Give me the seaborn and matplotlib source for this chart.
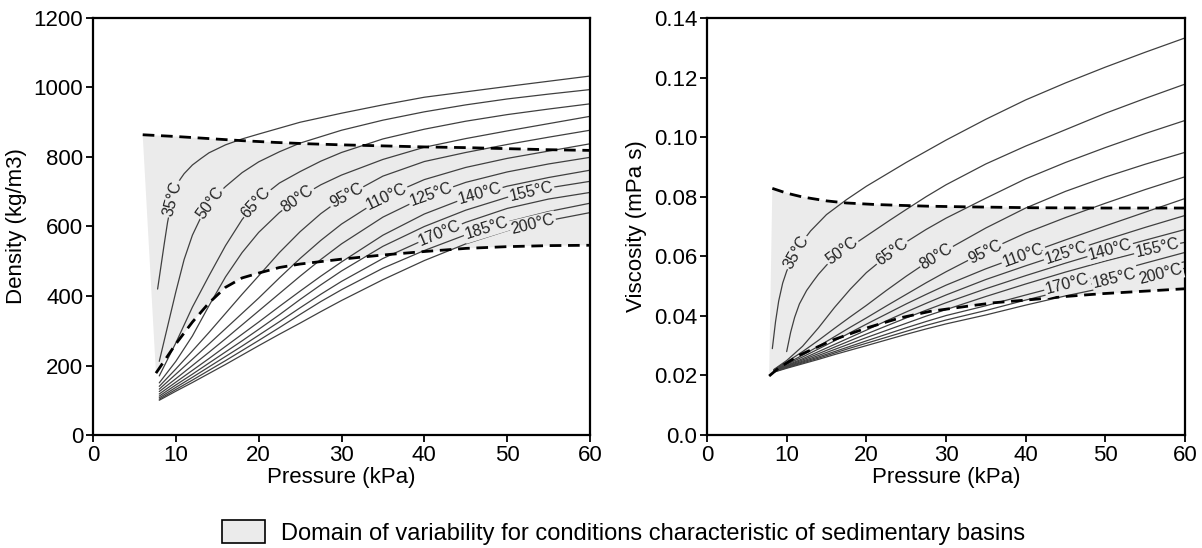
import numpy as np
import pandas as pd
import matplotlib
matplotlib.use("Agg")
import matplotlib.pyplot as plt
import seaborn as sns
from matplotlib.patches import Patch

# ---------------- data ----------------
temps = ["35°C", "50°C", "65°C", "80°C", "95°C", "110°C", "125°C",
         "140°C", "155°C", "170°C", "185°C", "200°C"]

# Density (kg/m3) vs pressure (kPa)
dens_p_35 = [7.8, 8.2, 8.6, 9.0, 9.5, 10, 10.5, 11, 12, 13, 14, 16, 18, 20, 25, 30, 35, 40, 50, 60]
dens_35 = [420, 485, 550, 612, 672, 712, 735, 752, 777, 795, 812, 835, 852, 866, 900, 926, 950, 972, 1003, 1033]
dens_p_50 = [8, 9, 10, 11, 12, 13, 14, 15, 16, 18, 20, 22.5, 25, 30, 35, 40, 45, 50, 55, 60]
dens_50 = [212, 312, 412, 505, 575, 625, 662, 692, 715, 755, 786, 815, 840, 877, 906, 930, 950, 967, 981, 994]
dens_p = [8, 10, 12, 14, 16, 18, 20, 22.5, 25, 27.5, 30, 35, 40, 45, 50, 55, 60]
dens_65 = [170, 265, 368, 458, 545, 620, 678, 725, 758, 788, 813, 852, 880, 903, 922, 938, 953]
dens_80 = [150, 212, 285, 372, 455, 525, 583, 640, 685, 720, 748, 793, 828, 853, 875, 896, 917]
dens_95 = [140, 190, 242, 295, 350, 405, 458, 525, 585, 637, 680, 745, 787, 813, 836, 857, 877]
dens_110 = [132, 175, 218, 262, 306, 350, 394, 452, 508, 560, 607, 683, 735, 770, 796, 817, 838]
dens_125 = [125, 162, 200, 238, 277, 317, 357, 407, 457, 505, 550, 627, 685, 727, 757, 780, 799]
dens_140 = [118, 152, 186, 220, 255, 290, 325, 370, 414, 457, 498, 575, 636, 682, 716, 741, 762]
dens_155 = [112, 144, 175, 207, 239, 271, 304, 346, 390, 432, 472, 543, 600, 647, 684, 711, 730]
dens_170 = [107, 137, 166, 196, 226, 256, 287, 326, 366, 405, 442, 508, 562, 612, 652, 679, 698]
dens_185 = [103, 131, 158, 186, 214, 243, 272, 309, 347, 384, 418, 480, 531, 576, 613, 643, 667]
dens_200 = [100, 126, 151, 177, 203, 230, 257, 290, 322, 355, 387, 447, 502, 550, 588, 617, 640]

dens_up_p = [6, 10, 14, 18, 22, 26, 30, 35, 40, 45, 50, 55, 60]
dens_up = [864, 859, 853, 847, 842, 838, 835, 832, 829, 827, 824, 821, 819]
dens_lo_p = [7.6, 10, 12, 14, 16, 18, 20, 22.5, 25, 30, 35, 40, 45, 50, 55, 60]
dens_lo = [178, 262, 325, 380, 425, 452, 466, 482, 492, 506, 518, 528, 537, 542, 545, 546]

# Viscosity (mPa s) vs pressure (kPa)
visc_p_35 = [8.2, 8.6, 9, 9.5, 10, 10.5, 11, 12, 13, 15, 17.5, 20, 25, 30, 35, 40, 45, 50, 55, 60]
visc_35 = [0.029, 0.038, 0.045, 0.051, 0.0550, 0.0580, 0.0605, 0.0650, 0.0685, 0.0740, 0.0790,
           0.0835, 0.0915, 0.0990, 0.1060, 0.1125, 0.1182, 0.1235, 0.1285, 0.1333]
visc_p_50 = [10, 10.5, 11, 11.6, 12.5, 13.3, 14, 15, 16, 17, 19, 21, 23, 25, 27.5, 30, 35, 40, 45, 50, 55, 60]
visc_50 = [0.028, 0.0345, 0.0395, 0.0440, 0.0485, 0.0515, 0.0540, 0.0570, 0.0597, 0.0620, 0.0650,
           0.0686, 0.0722, 0.0757, 0.0800, 0.0840, 0.0910, 0.0970, 0.1025, 0.1080, 0.1130, 0.1178]
visc_p = [8.4, 10, 12, 14, 16, 18, 20, 22.5, 25, 27.5, 30, 35, 40, 45, 50, 55, 60]
visc_65 = [0.0220, 0.0250, 0.0298, 0.0360, 0.0428, 0.0490, 0.0545, 0.0600, 0.0648, 0.0690, 0.0728, 0.0795, 0.0860, 0.0915, 0.0965, 0.1012, 0.1056]
visc_80 = [0.0219, 0.0245, 0.0280, 0.0318, 0.0358, 0.0397, 0.0435, 0.0485, 0.0533, 0.0578, 0.0620, 0.0695, 0.0762, 0.0818, 0.0866, 0.0909, 0.0949]
visc_95 = [0.0218, 0.0240, 0.0268, 0.0298, 0.0330, 0.0362, 0.0393, 0.0433, 0.0472, 0.0511, 0.0548, 0.0617, 0.0678, 0.0730, 0.0778, 0.0824, 0.0867]
visc_110 = [0.0217, 0.0237, 0.0262, 0.0289, 0.0316, 0.0344, 0.0372, 0.0406, 0.0440, 0.0472, 0.0503, 0.0558, 0.0607, 0.0655, 0.0702, 0.0748, 0.0794]
visc_125 = [0.0216, 0.0234, 0.0256, 0.0280, 0.0304, 0.0328, 0.0352, 0.0383, 0.0413, 0.0442, 0.0470, 0.0522, 0.0568, 0.0612, 0.0655, 0.0697, 0.0737]
visc_140 = [0.0215, 0.0232, 0.0252, 0.0273, 0.0295, 0.0317, 0.0339, 0.0366, 0.0393, 0.0419, 0.0444, 0.0491, 0.0535, 0.0577, 0.0617, 0.0654, 0.0690]
visc_155 = [0.0214, 0.0230, 0.0248, 0.0267, 0.0287, 0.0307, 0.0327, 0.0351, 0.0375, 0.0399, 0.0421, 0.0465, 0.0507, 0.0547, 0.0584, 0.0618, 0.0647]
visc_170 = [0.0213, 0.0228, 0.0245, 0.0262, 0.0280, 0.0298, 0.0316, 0.0338, 0.0360, 0.0381, 0.0401, 0.0434, 0.0470, 0.0505, 0.0540, 0.0577, 0.0613]
visc_185 = [0.0212, 0.0226, 0.0242, 0.0258, 0.0275, 0.0292, 0.0308, 0.0328, 0.0348, 0.0368, 0.0386, 0.0418, 0.0453, 0.0486, 0.0518, 0.0550, 0.0582]
visc_200 = [0.0211, 0.0224, 0.0239, 0.0254, 0.0270, 0.0285, 0.0300, 0.0319, 0.0338, 0.0356, 0.0373, 0.0403, 0.0436, 0.0467, 0.0495, 0.0526, 0.0560]

visc_up_p = [8.2, 10, 12, 15, 17.5, 21, 24.2, 28, 32.6, 40.9, 50, 60]
visc_up = [0.0828, 0.0812, 0.0799, 0.0786, 0.0779, 0.0774, 0.0771, 0.0768, 0.0766, 0.0763, 0.0762, 0.0762]
visc_lo_p = [7.8, 9, 11.6, 15.8, 20, 24.2, 28, 32.6, 36, 40.9, 45, 49.3, 55, 60]
visc_lo = [0.0198, 0.0225, 0.0268, 0.0319, 0.0359, 0.0393, 0.0415, 0.0432, 0.0444, 0.0455, 0.0465, 0.0474, 0.0483, 0.0491]

# curve label positions (pressure along each curve)
dens_label_p = [9.6, 14.2, 19.7, 24.7, 30.6, 35.4, 40.8, 46.7, 52.9, 41.9, 47.5, 53.1]
visc_label_p = [11.2, 16.9, 23.2, 28.8, 34.9, 39.7, 45.1, 50.6, 56.5, 45.2, 51.2, 56.9]

x_ticks = [0, 10, 20, 30, 40, 50, 60]
dens_ticks = [0, 200, 400, 600, 800, 1000, 1200]
visc_ticks = [0.0, 0.02, 0.04, 0.06, 0.08, 0.10, 0.12, 0.14]
visc_ticklabels = ["0.0", "0.02", "0.04", "0.06", "0.08", "0.10", "0.12", "0.14"]

legend_text = "Domain of variability for conditions characteristic of sedimentary basins"

# ---------------- build frames ----------------
dens_curves = [(dens_p_35, dens_35), (dens_p_50, dens_50)] + [
    (dens_p, v) for v in [dens_65, dens_80, dens_95, dens_110, dens_125,
                          dens_140, dens_155, dens_170, dens_185, dens_200]]
visc_curves = [(visc_p_35, visc_35), (visc_p_50, visc_50)] + [
    (visc_p, v) for v in [visc_65, visc_80, visc_95, visc_110, visc_125,
                          visc_140, visc_155, visc_170, visc_185, visc_200]]


def long_frame(curves):
    rows = []
    for t, (p, v) in zip(temps, curves):
        for pi, vi in zip(p, v):
            rows.append((t, pi, vi))
    return pd.DataFrame(rows, columns=["temp", "P", "val"])


df_dens = long_frame(dens_curves)
df_visc = long_frame(visc_curves)

# ---------------- style ----------------
sns.set_theme(style="ticks")
plt.rcParams["font.family"] = ["Liberation Sans", "DejaVu Sans"]
plt.rcParams["text.color"] = "black"
plt.rcParams["axes.labelcolor"] = "black"

FILL = "#ebebeb"
LINEC = "#404040"
FS = 16

fig = plt.figure(figsize=(12.02, 5.48), dpi=100)
ax1 = fig.add_axes([93 / 1202, 1 - 435 / 548, (590 - 93) / 1202, (435 - 18) / 548])
ax2 = fig.add_axes([707 / 1202, 1 - 435 / 548, (1185 - 707) / 1202, (435 - 18) / 548])


def draw_panel(ax, df, curves, up_p, up, lo_p, lo, label_p, ylim, yticks, yticklabels, ylabel):
    ax.set_xlim(0, 60)
    ax.set_ylim(*ylim)
    # shaded domain
    ax.fill(np.concatenate([up_p, lo_p[::-1]]), np.concatenate([up, lo[::-1]]),
            color=FILL, lw=0, zorder=0)
    # isotherms
    sns.lineplot(data=df, x="P", y="val", units="temp", estimator=None, sort=False,
                 color=LINEC, lw=0.9, ax=ax, zorder=2, legend=False)
    # boundaries
    for bp, bv in [(up_p, up), (lo_p, lo)]:
        sns.lineplot(x=bp, y=bv, color="black", lw=2.0, ax=ax, zorder=3,
                     estimator=None, sort=False, legend=False)
        ax.lines[-1].set_dashes([4.2, 2.4])
    # labels on curves
    fig.canvas.draw()
    for t, (p, v), lp in zip(temps, curves, label_p):
        y = np.interp(lp, p, v)
        a = ax.transData.transform((lp - 0.6, np.interp(lp - 0.6, p, v)))
        b = ax.transData.transform((lp + 0.6, np.interp(lp + 0.6, p, v)))
        ang = np.degrees(np.arctan2(b[1] - a[1], b[0] - a[0]))
        ax.text(lp, y, t, rotation=ang, rotation_mode="anchor", ha="center", va="center",
                fontsize=11.5, color="#222222", zorder=4,
                bbox=dict(boxstyle="square,pad=0.08", fc=FILL, ec="none"))
    ax.set_xticks(x_ticks)
    ax.set_xticklabels([str(x) for x in x_ticks], fontsize=FS)
    ax.set_yticks(yticks)
    ax.set_yticklabels(yticklabels, fontsize=FS)
    ax.set_xlabel("Pressure (kPa)", fontsize=FS, color="black", labelpad=1)
    ax.set_ylabel(ylabel, fontsize=FS, color="black", labelpad=5)
    for s in ax.spines.values():
        s.set_visible(True)
        s.set_color("black")
        s.set_linewidth(1.6)
    ax.tick_params(axis="both", direction="out", length=5, width=1.3, colors="black",
                   labelcolor="black", top=False, right=False, pad=2)


draw_panel(ax1, df_dens, dens_curves, np.array(dens_up_p), np.array(dens_up),
           np.array(dens_lo_p), np.array(dens_lo), dens_label_p, (0, 1200),
           dens_ticks, [str(t) for t in dens_ticks], "Density (kg/m3)")
draw_panel(ax2, df_visc, visc_curves, np.array(visc_up_p), np.array(visc_up),
           np.array(visc_lo_p), np.array(visc_lo), visc_label_p, (0, 0.14),
           visc_ticks, visc_ticklabels, "Viscosity (mPa s)")

handle = Patch(facecolor=FILL, edgecolor="black", linewidth=1.2)
fig.legend([handle], [legend_text], loc="center", bbox_to_anchor=(0.519, 0.028),
           frameon=False, fontsize=17, labelcolor="black", handlelength=1.8,
           handleheight=1.1, handletextpad=0.7, borderpad=0.2)

fig.savefig("out.png", dpi=100)
